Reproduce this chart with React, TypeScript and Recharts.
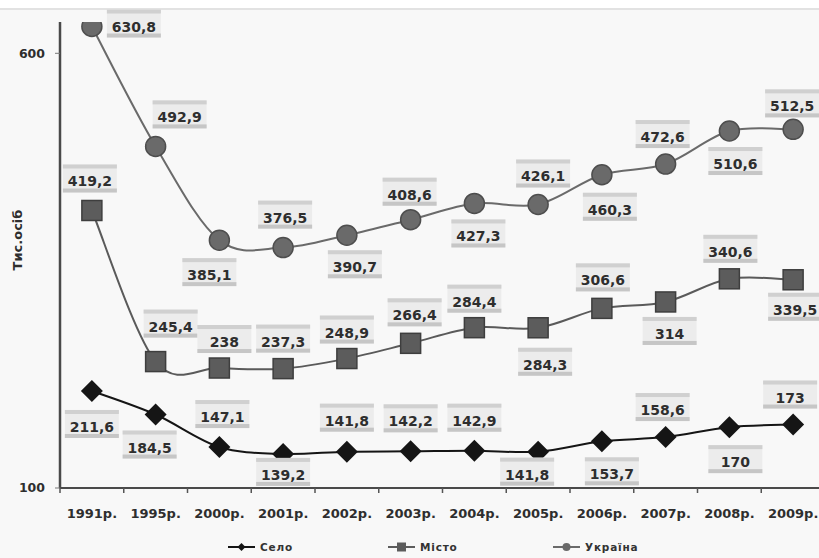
import React from 'react';
import { LineChart, Line, XAxis, YAxis, LabelList, Legend } from 'recharts';

const years = ['1991р.', '1995р.', '2000р.', '2001р.', '2002р.', '2003р.', '2004р.', '2005р.', '2006р.', '2007р.', '2008р.', '2009р.'];
const selo = [211.6, 184.5, 147.1, 139.2, 141.8, 142.2, 142.9, 141.8, 153.7, 158.6, 170, 173];
const misto = [419.2, 245.4, 238, 237.3, 248.9, 266.4, 284.4, 284.3, 306.6, 314, 340.6, 339.5];
const ukraina = [630.8, 492.9, 385.1, 376.5, 390.7, 408.6, 427.3, 426.1, 460.3, 472.6, 510.6, 512.5];
const yTicks = [100, 600];
const seriesNames = { selo: 'Село', misto: 'Місто', ukraina: 'Україна' };
const yLabel = 'Тис.осіб';

// label placement (layout only): [dx, dy] from point
const ukrainaLabelPos = [[42, 0], [24, -29], [-10, 35], [2, -30], [8, 32], [-1, -25], [4, 33], [5, -28], [8, 35], [-3, -27], [6, 33], [-1, -23]];
const mistoLabelPos = [[-2, -29], [15, -35], [5, -26], [0, -27], [0, -26], [4, -28], [0, -26], [7, 37], [1, -28], [4, 32], [1, -27], [2, 30]];
const seloLabelPos = [[0, 36], [-6, 33], [3, -30], [0, 21], [0, -31], [0, -30], [0, -30], [-11, 23], [10, 33], [-3, -27], [6, 35], [-3, -27]];

const data = years.map((y, i) => ({ year: y, selo: selo[i], misto: misto[i], ukraina: ukraina[i] }));

const FONT = '"DejaVu Sans", Arial, sans-serif';
const PLOT_W = 765;
const HALF_BAND = PLOT_W / years.length / 2;

// Excel-like smoothed curve (Catmull-Rom style bezier)
const excelCurve = (context: any) => {
  let pts: number[][] = [];
  return {
    areaStart() {},
    areaEnd() {},
    lineStart() { pts = []; },
    point(x: number, y: number) { pts.push([+x, +y]); },
    lineEnd() {
      if (!pts.length) return;
      context.moveTo(pts[0][0], pts[0][1]);
      for (let i = 0; i < pts.length - 1; i++) {
        const p0 = pts[i - 1] || pts[i];
        const p1 = pts[i];
        const p2 = pts[i + 1];
        const p3 = pts[i + 2] || pts[i + 1];
        const c1x = p1[0] + (p2[0] - p0[0]) / 6;
        const c1y = p1[1] + (p2[1] - p0[1]) / 6;
        const c2x = p2[0] - (p3[0] - p1[0]) / 6;
        const c2y = p2[1] - (p3[1] - p1[1]) / 6;
        context.bezierCurveTo(c1x, c1y, c2x, c2y, p2[0], p2[1]);
      }
    },
  };
};

const fmt = (v: number) => String(v).replace('.', ',');

const makeLabel = (pos: number[][]) => (props: any) => {
  const { x, y, value, index } = props;
  const [dx, dy] = pos[index] || [0, -25];
  const cx = x + dx;
  const cy = y + dy;
  const w = 54;
  return (
    <g>
      <rect x={cx - w / 2} y={cy - 17} width={w} height={28} fill="#ececec" />
      <rect x={cx - w / 2} y={cy - 17} width={w} height={4} fill="#d0d0d0" />
      <rect x={cx - w / 2} y={cy + 7} width={w} height={4} fill="#c6c6c6" />
      <text x={cx} y={cy + 5} textAnchor="middle" fontFamily={FONT} fontWeight="bold" fontSize={14} fill="#2e2e2e">
        {fmt(value)}
      </text>
    </g>
  );
};

const CircleDot = (props: any) => {
  const { cx, cy } = props;
  if (cx == null || cy == null) return null;
  return <circle cx={cx} cy={cy} r={10} fill="#6a6a6a" stroke="#4e4e4e" strokeWidth={1.5} />;
};
const SquareDot = (props: any) => {
  const { cx, cy } = props;
  if (cx == null || cy == null) return null;
  return <rect x={cx - 10} y={cy - 10} width={20} height={20} fill="#5c5c5c" stroke="#3e3e3e" strokeWidth={1.5} />;
};
const DiamondDot = (props: any) => {
  const { cx, cy } = props;
  if (cx == null || cy == null) return null;
  return <path d={`M${cx},${cy - 11}L${cx + 11},${cy}L${cx},${cy + 11}L${cx - 11},${cy}Z`} fill="#151515" />;
};

const XTick = (props: any) => {
  const { x, y, payload } = props;
  return (
    <g>
      <line x1={x - HALF_BAND} y1={y} x2={x - HALF_BAND} y2={y + 5} stroke="#555" strokeWidth={1.5} />
      <text x={x} y={y + 30} textAnchor="middle" fontFamily={FONT} fontWeight="bold" fontSize={13} fill="#2e2e2e">
        {payload.value}
      </text>
    </g>
  );
};

const LegendContent = () => {
  const items = [
    { name: seriesNames.selo, x: 228, kind: 'diamond', color: '#151515' },
    { name: seriesNames.misto, x: 388, kind: 'square', color: '#5c5c5c' },
    { name: seriesNames.ukraina, x: 553, kind: 'circle', color: '#6a6a6a' },
  ];
  return (
    <svg width={830} height={20} style={{ display: 'block' }}>
      {items.map((it) => {
        const mx = it.x + 13.5;
        return (
          <g key={it.name}>
            <line x1={it.x} y1={10} x2={it.x + 27} y2={10} stroke={it.color} strokeWidth={2} />
            {it.kind === 'diamond' && <path d={`M${mx},6L${mx + 4},10L${mx},14L${mx - 4},10Z`} fill={it.color} />}
            {it.kind === 'square' && <rect x={mx - 4.5} y={5.5} width={9} height={9} fill={it.color} />}
            {it.kind === 'circle' && <circle cx={mx} cy={10} r={4} fill={it.color} />}
            <text x={it.x + 32} y={14} fontFamily={FONT} fontWeight="bold" fontSize={10.5} letterSpacing={0.8} fill="#333">
              {it.name}
            </text>
          </g>
        );
      })}
    </svg>
  );
};

export default function App() {
  return (
    <div style={{ position: 'absolute', left: 0, top: 0, width: 819, height: 558, overflow: 'hidden', background: '#ffffff' }}>
      <div style={{ position: 'absolute', left: 0, top: 8, width: 819, height: 550, background: '#f8f8f8', borderTop: '2px solid #e2e2e2' }} />
      <div style={{ position: 'absolute', left: 0, top: 0 }}>
        <LineChart width={830} height={558} data={data} margin={{ top: 22, right: 5, left: 0, bottom: 0 }}>
          <XAxis
            dataKey="year"
            interval={0}
            height={70}
            tickSize={0}
            tickMargin={0}
            tickLine={false}
            padding={{ left: HALF_BAND, right: HALF_BAND }}
            axisLine={{ stroke: '#4a4a4a', strokeWidth: 2 }}
            tick={<XTick />}
          />
          <YAxis
            type="number"
            domain={[100, 636]}
            ticks={yTicks}
            width={60}
            tickSize={5}
            tickMargin={10}
            axisLine={{ stroke: '#4a4a4a', strokeWidth: 2.5 }}
            tickLine={{ stroke: '#777' }}
            tick={{ fontFamily: FONT, fontWeight: 'bold', fontSize: 12.5, fill: '#2e2e2e' }}
            allowDataOverflow
          />
          <Legend
            verticalAlign="middle"
            align="center"
            layout="horizontal"
            wrapperStyle={{ top: 537, left: 0, width: 830 }}
            content={<LegendContent />}
          />
          <Line
            dataKey="ukraina"
            name={seriesNames.ukraina}
            type={excelCurve as any}
            stroke="#6a6a6a"
            strokeWidth={2}
            dot={<CircleDot />}
            activeDot={false}
            isAnimationActive={false}
          >
            <LabelList dataKey="ukraina" content={makeLabel(ukrainaLabelPos)} />
          </Line>
          <Line
            dataKey="misto"
            name={seriesNames.misto}
            type={excelCurve as any}
            stroke="#5a5a5a"
            strokeWidth={2}
            dot={<SquareDot />}
            activeDot={false}
            isAnimationActive={false}
          >
            <LabelList dataKey="misto" content={makeLabel(mistoLabelPos)} />
          </Line>
          <Line
            dataKey="selo"
            name={seriesNames.selo}
            type={excelCurve as any}
            stroke="#151515"
            strokeWidth={2}
            dot={<DiamondDot />}
            activeDot={false}
            isAnimationActive={false}
          >
            <LabelList dataKey="selo" content={makeLabel(seloLabelPos)} />
          </Line>
        </LineChart>
      </div>
      <div
        style={{
          position: 'absolute',
          left: 17,
          top: 240,
          transform: 'translate(-50%, -50%) rotate(-90deg)',
          fontFamily: FONT,
          fontWeight: 'bold',
          fontSize: 13,
          color: '#2e2e2e',
          whiteSpace: 'nowrap',
        }}
      >
        {yLabel}
      </div>
    </div>
  );
}
